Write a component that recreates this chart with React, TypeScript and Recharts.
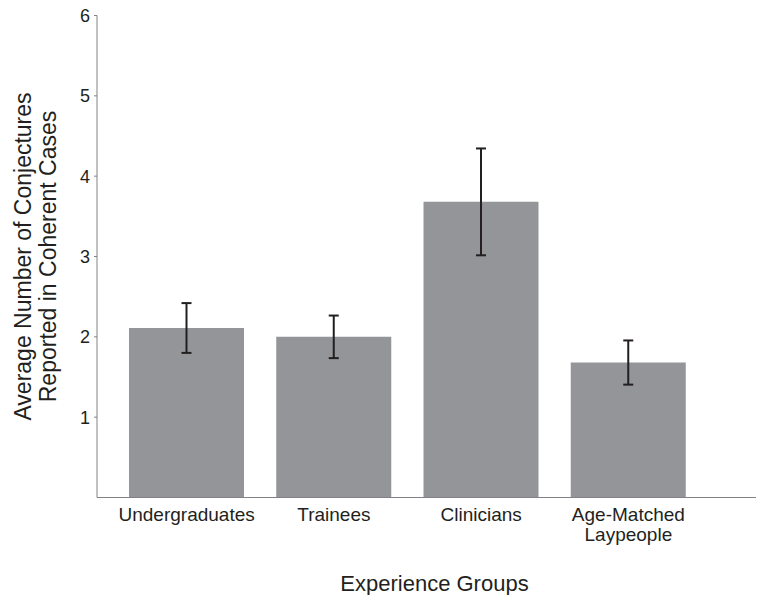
import { BarChart, Bar, XAxis, YAxis, ErrorBar, Label } from "recharts"

const groups = ["Undergraduates", "Trainees", "Clinicians", "Age-Matched\nLaypeople"]
const means = [2.11, 2.0, 3.68, 1.68]
const errors = [0.31, 0.265, 0.665, 0.275]
const yTicks = [1, 2, 3, 4, 5, 6]

const data = groups.map((g, i) => ({ group: g, mean: means[i], err: errors[i] }))

const FONT = "'Liberation Sans', Arial, Helvetica, sans-serif"
const INK = "#231f20"
const AXIS = "#808285"

// multi-line category labels
function GroupTick({ x, y, payload }: any) {
  const lines = String(payload.value).split("\n")
  return (
    <text x={x} y={y} textAnchor="middle" fill={INK} fontSize={19} fontFamily={FONT}>
      {lines.map((l, i) => (
        <tspan key={i} x={x} dy={i === 0 ? "0.71em" : 20}>{l}</tspan>
      ))}
    </text>
  )
}

function YTitle({ viewBox }: any) {
  const cy = viewBox ? viewBox.y + viewBox.height / 2 : 258
  return (
    <g>
      <text x={31} y={cy} transform={`rotate(-90 31 ${cy})`} textAnchor="middle" fill={INK} fontSize={23} fontFamily={FONT}>
        Average Number of Conjectures
      </text>
      <text x={56} y={cy} transform={`rotate(-90 56 ${cy})`} textAnchor="middle" fill={INK} fontSize={23} fontFamily={FONT}>
        Reported in Coherent Cases
      </text>
    </g>
  )
}

export default function App() {
  return (
    <div style={{ position: "absolute", left: 0, top: 0, background: "#fff" }}>
      <BarChart width={758} height={595} data={data} margin={{ top: 15.5, right: 2, left: 57, bottom: 67.5 }}>
        <XAxis
          dataKey="group"
          stroke={AXIS}
          tickLine={false}
          tickSize={0}
          tickMargin={10}
          interval={0}
          height={30}
          padding={{ left: 16, right: 54 }}
          tick={<GroupTick />}
        >
          <Label
            value="Experience Groups"
            position="bottom"
            offset={48}
            dx={8}
            fill={INK}
            fontSize={22}
            fontFamily={FONT}
          />
        </XAxis>
        <YAxis
          domain={[0, 6]}
          ticks={yTicks}
          width={40}
          stroke={AXIS}
          tickSize={3}
          tickMargin={4}
          tick={{ fill: INK, fontSize: 18, fontFamily: FONT }}
          label={<YTitle />}
        />
        <Bar dataKey="mean" fill="#939598" barSize={115} isAnimationActive={false}>
          <ErrorBar dataKey="err" width={5} stroke={INK} strokeWidth={2} direction="y" />
        </Bar>
      </BarChart>
    </div>
  )
}
